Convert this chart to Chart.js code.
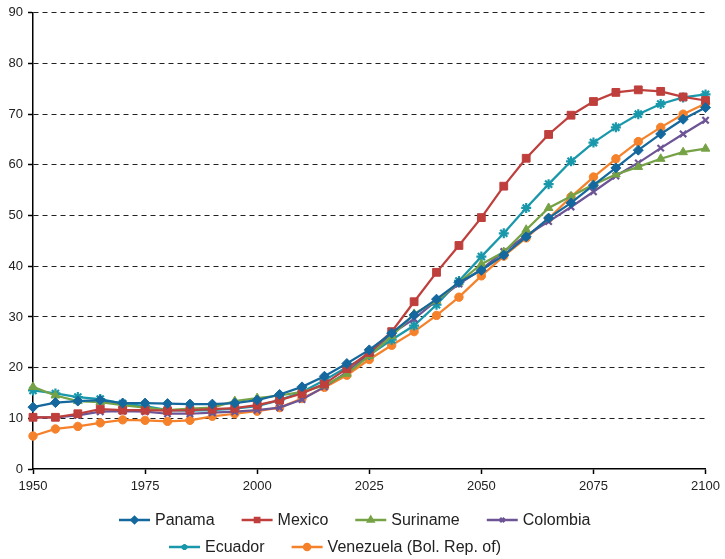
<!DOCTYPE html>
<html>
<head>
<meta charset="utf-8">
<script src="https://cdn.jsdelivr.net/npm/chart.js@4.4.0/dist/chart.umd.min.js"></script>
<style>
    html, body { margin: 0; padding: 0; background: #fff; }
    #wrap { width: 725px; height: 559px; }
</style>
</head>
<body>
<div id="wrap"><canvas id="my-chart" width="725" height="559"></canvas></div>
<script>
const years = [1950, 1955, 1960, 1965, 1970, 1975, 1980, 1985, 1990, 1995, 2000, 2005, 2010, 2015, 2020,
    2025, 2030, 2035, 2040, 2045, 2050, 2055, 2060, 2065, 2070, 2075, 2080, 2085, 2090, 2095, 2100];

const panama = [12.2, 13.1, 13.4, 13.6, 13.0, 13.0, 12.9, 12.8, 12.8, 13.0, 13.6, 14.7, 16.2, 18.3, 20.8,
    23.5, 26.8, 30.4, 33.5, 36.8, 39.2, 42.2, 45.8, 49.5, 52.5, 56.0, 59.4, 62.9, 66.1, 69.0, 71.3];
const mexico = [10.2, 10.2, 10.9, 11.8, 11.6, 11.6, 11.5, 11.6, 11.8, 12.0, 12.6, 13.6, 14.9, 16.8, 19.8,
    23.0, 27.1, 33.0, 38.8, 44.1, 49.6, 55.8, 61.3, 66.0, 69.8, 72.5, 74.3, 74.8, 74.5, 73.4, 72.7];
const suriname = [16.2, 14.5, 13.4, 13.2, 12.6, 12.1, 11.6, 11.9, 12.1, 13.4, 14.0, 14.5, 15.2, 16.5, 18.8,
    22.3, 26.2, 30.6, 33.2, 36.8, 40.4, 42.8, 47.2, 51.5, 53.8, 56.1, 58.1, 59.6, 61.2, 62.5, 63.2];
const colombia = [10.2, 10.2, 10.6, 11.3, 11.4, 11.3, 10.9, 10.9, 11.1, 11.3, 11.6, 12.1, 13.7, 16.2, 19.1,
    22.8, 26.7, 29.6, 33.2, 36.5, 39.4, 42.9, 46.1, 48.8, 51.7, 54.7, 57.8, 60.4, 63.3, 66.1, 68.8];
const ecuador = [15.5, 14.9, 14.2, 13.8, 12.9, 12.4, 11.6, 11.5, 11.6, 11.9, 12.4, 13.6, 15.2, 17.5, 20.1,
    22.5, 25.5, 28.3, 32.4, 37.1, 41.9, 46.5, 51.5, 56.2, 60.7, 64.4, 67.4, 70.0, 72.0, 73.3, 73.9];
const venezuela = [6.5, 7.9, 8.4, 9.1, 9.7, 9.6, 9.4, 9.6, 10.4, 10.9, 11.4, 12.1, 13.9, 16.1, 18.5,
    21.6, 24.4, 27.1, 30.3, 33.9, 38.1, 42.0, 45.6, 49.4, 53.7, 57.6, 61.2, 64.6, 67.4, 70.0, 72.1];

const seriesNames = ['Panama', 'Mexico', 'Suriname', 'Colombia', 'Ecuador', 'Venezuela (Bol. Rep. of)'];
const seriesValues = [panama, mexico, suriname, colombia, ecuador, venezuela];
const colors = ['#15689d', '#bf3f3c', '#76a246', '#6c5495', '#1998ab', '#f5812b'];
const markers = ['rectRot', 'rect', 'triangle', 'crossRot', 'star', 'circle'];
const markerSizes = [5, 5.5, 5, 4.5, 5, 4.2];

const yTicks = [0, 10, 20, 30, 40, 50, 60, 70, 80, 90];
const xTicks = [1950, 1975, 2000, 2025, 2050, 2075, 2100];

const FONT = '"Liberation Sans", Arial, sans-serif';

// legend drawn by hand: line + marker + label, two rows like the original
const legendRows = [
    { y: 520, x: 119, items: [0, 1, 2, 3] },
    { y: 547, x: 169, items: [4, 5] }
];
const lineLegend = {
    id: 'lineLegend',
    afterDraw(chart) {
        const ctx = chart.ctx;
        ctx.save();
        ctx.font = '16px ' + FONT;
        ctx.textBaseline = 'middle';
        legendRows.forEach(row => {
            let x = row.x;
            row.items.forEach(i => {
                ctx.strokeStyle = colors[i];
                ctx.fillStyle = colors[i];
                ctx.lineWidth = 2.5;
                ctx.beginPath();
                ctx.moveTo(x, row.y);
                ctx.lineTo(x + 31, row.y);
                ctx.stroke();
                Chart.helpers.drawPoint(ctx, {
                    pointStyle: markers[i], radius: 3, rotation: 0, borderWidth: 1.5
                }, x + 15.5, row.y);
                ctx.fillStyle = '#222';
                ctx.fillText(seriesNames[i], x + 36, row.y + 1);
                x += 36 + ctx.measureText(seriesNames[i]).width + 27;
            });
        });
        ctx.restore();
    }
};

document.addEventListener('DOMContentLoaded', () => {
    const ctx = document.getElementById('my-chart').getContext('2d');

    const datasets = seriesNames.map((name, i) => ({
        label: name,
        data: years.map((yr, k) => ({ x: yr, y: seriesValues[i][k] })),
        borderColor: colors[i],
        backgroundColor: colors[i],
        pointBackgroundColor: colors[i],
        pointBorderColor: colors[i],
        borderWidth: 2.25,
        pointStyle: markers[i],
        pointRadius: markerSizes[i],
        pointBorderWidth: markers[i] === 'crossRot' || markers[i] === 'star' ? 2.2 : 1,
        pointHoverRadius: markerSizes[i],
        tension: 0,
        clip: false
    }));

    new Chart(ctx, {
        type: 'line',
        data: { datasets: datasets },
        plugins: [lineLegend],
        options: {
            responsive: false,
            devicePixelRatio: 1,
            animation: false,
            layout: { padding: { top: 11, right: 18, left: 0, bottom: 0 } },
            scales: {
                x: {
                    type: 'linear',
                    min: 1950,
                    max: 2100,
                    afterBuildTicks: s => { s.ticks = xTicks.map(v => ({ value: v })); },
                    afterFit: s => { s.height = 90; },
                    ticks: {
                        color: '#222',
                        font: { family: FONT, size: 13 },
                        padding: 5,
                        maxRotation: 0,
                        autoSkip: false,
                        callback: v => String(v)
                    },
                    grid: {
                        drawOnChartArea: false,
                        color: 'rgba(0,0,0,0)',
                        tickColor: '#000',
                        tickLength: 5,
                        tickWidth: 1.5
                    },
                    border: { color: '#000', width: 1.5 }
                },
                y: {
                    min: 0,
                    max: 90,
                    afterBuildTicks: s => { s.ticks = yTicks.map(v => ({ value: v })); },
                    afterFit: s => { s.width = 33; },
                    ticks: {
                        color: '#222',
                        font: { family: FONT, size: 13 },
                        padding: 5
                    },
                    grid: {
                        color: c => (c.tick && c.tick.value === 0) ? 'rgba(0,0,0,0)' : '#222',
                        lineWidth: 1,
                        tickColor: '#000',
                        tickLength: 5,
                        tickWidth: 1.5
                    },
                    border: { color: '#000', width: 1.5, dash: [5, 4] }
                }
            },
            plugins: {
                legend: { display: false },
                title: { display: false },
                tooltip: { enabled: false }
            }
        }
    });
});
</script>
</body>
</html>
